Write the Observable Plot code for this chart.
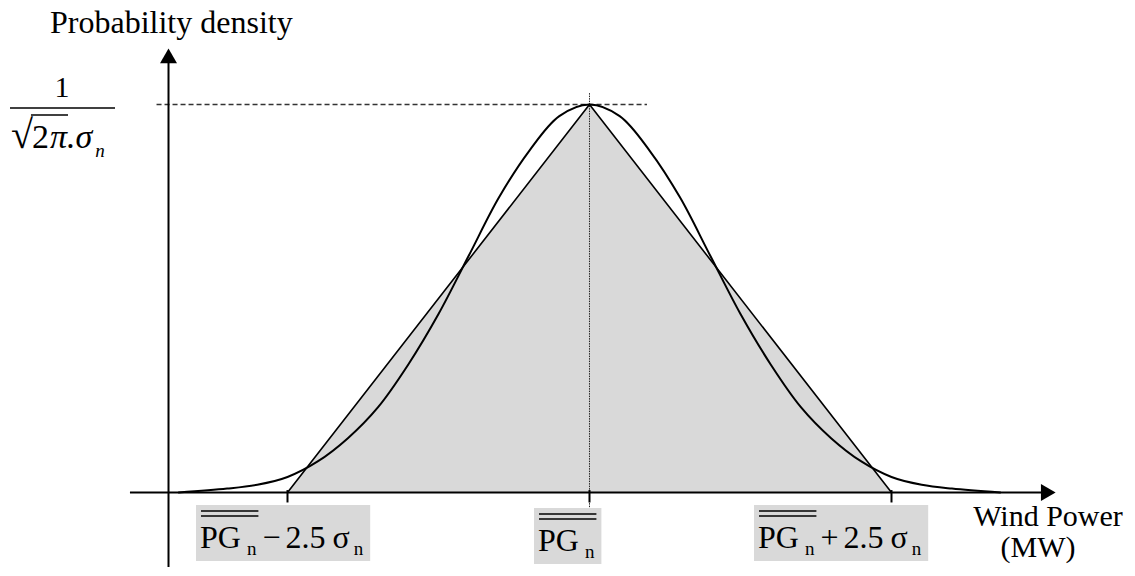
<!DOCTYPE html>
<html>
<head>
<meta charset="utf-8">
<script src="https://cdn.jsdelivr.net/npm/d3@7"></script>
<script src="https://cdn.jsdelivr.net/npm/@observablehq/plot@0.6"></script>
<style>
  body { margin: 0; background: #fff; }
  svg { display: block; }
</style>
</head>
<body>
<div id="chart"></div>
<script>
// Normal density of wind power, read at multiples of σ from the mean
// (height expressed as a share of the peak 1/(√(2π)·σ)).
const curveSigma   = [-3.4, -3.0, -2.75, -2.5, -2.25, -2.0, -1.75, -1.5, -1.25, -1.0, -0.75, -0.5, -0.25, 0,
                      0.25, 0.5, 0.75, 1.0, 1.25, 1.5, 1.75, 2.0, 2.25, 2.5, 2.75, 3.0, 3.4];
const curveDensity = [0.00, 0.01, 0.02, 0.04, 0.08, 0.14, 0.22, 0.33, 0.46, 0.61, 0.76, 0.88, 0.97, 1.00,
                      0.97, 0.88, 0.76, 0.61, 0.46, 0.33, 0.22, 0.14, 0.08, 0.04, 0.02, 0.01, 0.00];

// Triangular approximation spanning mean ± 2.5σ
const triangleSigma   = [-2.5, 0, 2.5];
const triangleDensity = [0, 1, 0];

// Ticks on the wind power axis and their label parts
const tickSigma = [-2.5, 0, 2.5];
const tickOps   = ["−", "", "+"];
const tickMean  = "PG";
const tickSub   = "n";
const tickSpan  = "2.5";
const tickSigmaSym = "σ";

const peakLevel = 1;

const curve = curveSigma.map((s, i) => ({s, d: curveDensity[i]}));
const triangle = triangleSigma.map((s, i) => ({s, d: triangleDensity[i]}));

// Axis geometry in data units (σ from the mean, share of peak)
const densityAxisAt = -3.485;
const powerAxisFrom = -3.80, powerAxisTip = 3.858;
const densityAxisFrom = -0.193, densityAxisTip = 1.144;

const serif = "\"Liberation Serif\", \"Times New Roman\", Times, serif";

const plot = Plot.plot({
  width: 1135,
  height: 576,
  margin: 0,
  x: {domain: [-4.8758, 4.5199], axis: null},
  y: {domain: [-0.2165, 1.268], axis: null},
  style: {background: "#fff", overflow: "visible", fontFamily: serif},
  marks: [
    Plot.areaY(triangle, {x: "s", y: "d", fill: "#d9d9d9"}),
    Plot.ruleY([peakLevel], {x1: -3.58, x2: 0.48, stroke: "#333", strokeWidth: 1.3, strokeDasharray: "5,3"}),
    Plot.ruleX([0], {y1: -0.039, y2: 1.028, stroke: "#222", strokeWidth: 1, strokeDasharray: "1.5,1"}),
    Plot.line(triangle, {x: "s", y: "d", stroke: "#000", strokeWidth: 1.6}),
    Plot.line(curve, {x: "s", y: "d", curve: "catmull-rom", stroke: "#000", strokeWidth: 2}),
    // axes
    Plot.ruleY([0], {x1: powerAxisFrom, x2: powerAxisTip - 0.08, stroke: "#000", strokeWidth: 2}),
    Plot.ruleX([densityAxisAt], {y1: densityAxisFrom, y2: densityAxisTip - 0.03, stroke: "#000", strokeWidth: 2}),
    Plot.dot([{x: powerAxisTip, y: 0}], {x: "x", y: "y", symbol: "triangle", r: 6.3, fill: "#000", stroke: null, rotate: 90, dx: -9.7}),
    Plot.dot([{x: densityAxisAt, y: densityAxisTip}], {x: "x", y: "y", symbol: "triangle", r: 6.3, fill: "#000", stroke: null, dy: 9.7}),
    Plot.ruleX(tickSigma, {y1: 0.005, y2: -0.027, stroke: "#000", strokeWidth: 2})
  ]
});

plot.setAttribute("font-family", serif);
document.getElementById("chart").appendChild(plot);

// ---- typeset labels (mixed sizes, subscripts, overlines) ----
const sx = plot.scale("x"), sy = plot.scale("y");
const svg = d3.select(plot);
const ink = svg.append("g").attr("font-family", serif);

function rich(parent, x, y, parts, anchor = "start") {
  const t = parent.append("text")
    .attr("font-family", serif)
    .attr("x", x).attr("y", y)
    .attr("text-anchor", anchor)
    .attr("fill", "#000");
  for (const p of parts) {
    t.append("tspan")
      .attr("font-size", p.size)
      .attr("font-style", p.italic ? "italic" : "normal")
      .attr("dx", p.dx || 0)
      .attr("dy", p.dy || 0)
      .text(p.t);
  }
  return t;
}

// Axis titles
rich(ink, 50, 33, [{t: "Probability density", size: 32}]);
rich(ink, sx.apply(densityAxisAt) + 880, 526, [{t: "Wind Power", size: 30}], "middle");
rich(ink, sx.apply(densityAxisAt) + 870, 557, [{t: "(MW)", size: 30}], "middle");

// Peak density label 1/(√(2π)·σn)
const fracY = sy.apply(peakLevel) + 4;
rich(ink, 62, 97, [{t: "1", size: 30}], "middle");
ink.append("line").attr("x1", 10).attr("x2", 115).attr("y1", fracY).attr("y2", fracY)
  .attr("stroke", "#000").attr("stroke-width", 1.5);
const den = rich(ink, 11, 148, [
  {t: "√", size: 40},
  {t: "2", size: 34, dx: -1},
  {t: "π", size: 34, italic: true, dx: 1},
  {t: ".", size: 34, italic: true},
  {t: "σ", size: 34, italic: true},
  {t: "n", size: 19, italic: true, dx: 3, dy: 9}
]);
{
  const a = den.node().getExtentOfChar(0);
  const b = den.node().getExtentOfChar(2);
  ink.append("line").attr("x1", a.x + a.width - 2).attr("x2", b.x + b.width + 1)
    .attr("y1", 115).attr("y2", 115).attr("stroke", "#000").attr("stroke-width", 1.3);
}

// Tick labels in grey boxes
const tickLabelOffset = [-87, -51, -133];
const tickLabelBaseline = [548, 551, 548];
tickSigma.forEach((s, i) => {
  const g = ink.append("g");
  const x0 = sx.apply(s) + tickLabelOffset[i];
  const y0 = tickLabelBaseline[i];
  const parts = [
    {t: tickMean, size: 32},
    {t: tickSub, size: 19, dx: 6, dy: 7}
  ];
  if (tickOps[i]) {
    parts.push(
      {t: tickOps[i], size: 32, dx: 6, dy: -7},
      {t: tickSpan, size: 32, dx: 5},
      {t: tickSigmaSym, size: 32, dx: 7},
      {t: tickSub, size: 19, dx: 4, dy: 7}
    );
  }
  const rect = g.append("rect").attr("fill", "#d9d9d9");
  const t = rich(g, x0, y0, parts);
  const node = t.node();
  const c0 = node.getExtentOfChar(0), c2 = node.getExtentOfChar(2);
  const last = node.getExtentOfChar(node.getNumberOfChars() - 1);
  for (const dy of [-37, -32]) {
    g.append("line").attr("x1", c0.x + 1).attr("x2", c2.x + c2.width + 2)
      .attr("y1", y0 + dy).attr("y2", y0 + dy).attr("stroke", "#000").attr("stroke-width", 1.5);
  }
  rect.attr("x", x0 - 4).attr("y", y0 - 43)
    .attr("width", last.x + last.width - x0 + 11).attr("height", 56);
});
</script>
</body>
</html>
